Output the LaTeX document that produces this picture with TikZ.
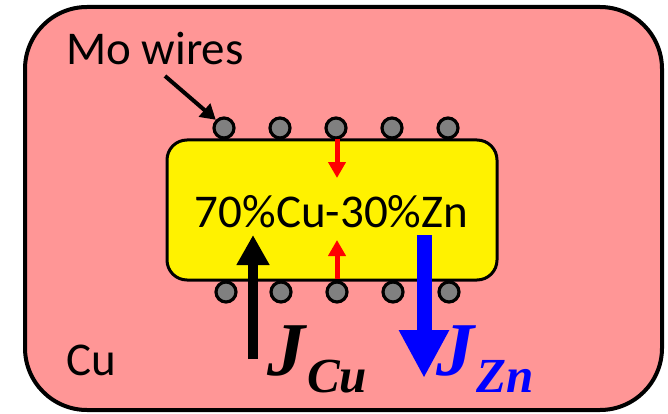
\documentclass[tikz,border=0pt]{standalone}
\usepackage{fontspec}
\setmainfont{Carlito}
\newfontfamily\jfont{Liberation Serif}
\usetikzlibrary{arrows.meta}
\definecolor{cupink}{RGB}{255,150,150}
\definecolor{bluez}{RGB}{0,0,255}
\definecolor{wiregray}{RGB}{128,128,128}
\tikzset{
  wire/.style={circle,draw=black,fill=wiregray,line width=3.2pt,minimum size=20pt,inner sep=0pt},
  lbl/.style={inner sep=0pt,font=\fontsize{47}{56}\selectfont},
  jbig/.style={inner sep=0pt,font=\fontsize{76}{84}\selectfont\jfont\bfseries\itshape},
  jsub/.style={inner sep=0pt,font=\fontsize{49}{57}\selectfont\jfont\bfseries\itshape},
  redarrow/.style={draw=red,line width=5pt,-{Triangle[length=16pt,width=17pt]}},
}
\begin{document}
\begin{tikzpicture}[x=1pt,y=-1pt]
\useasboundingbox (0,0) rectangle (668,414);
% outer Cu block
\draw[line width=4pt,fill=cupink,rounded corners=62pt] (25,7) rectangle (662,410);
% wires
\foreach \i/\x in {1/224,2/280,3/336,4/392,5/448}{
  \node[wire] (t\i) at (\x,128) {};
}
\foreach \i/\x in {1/226,2/281,3/337,4/393,5/449}{
  \node[wire] (b\i) at (\x,292) {};
}
% inner alloy block
\draw[line width=3pt,fill=yellow,rounded corners=20pt] (167,140) rectangle (497,280);
% texts
\node[lbl,anchor=base west] (mo) at (66,65) {Mo wires};
\node[lbl,anchor=base west] (cu) at (66,375) {Cu};
\node[lbl,anchor=base] (alloy) at (331.5,227) {70\%Cu-30\%Zn};
% Mo wires pointer
\coordinate (mostart) at (165,76);
\draw[line width=4pt,-{Triangle[length=15pt,width=17pt]}] (mostart) -- (t1.north west);
% red small arrows
\coordinate (rt1) at (337,139);
\coordinate (rt2) at (337,178);
\coordinate (rb1) at (337,279);
\coordinate (rb2) at (337,240);
\draw[redarrow] (rt1) -- (rt2);
\draw[redarrow] (rb1) -- (rb2);
% flux arrows
\coordinate (cu1) at (253,359);
\coordinate (cu2) at (253,235);
\draw[line width=10pt,-{Triangle[length=30pt,width=31pt]}] (cu1) -- (cu2);
\coordinate (zn1) at (424,235);
\coordinate (zn2) at (424,378);
\draw[bluez,line width=15pt,-{Triangle[length=48pt,width=47pt]}] (zn1) -- (zn2);
% flux labels
\node[jbig,anchor=base west] (jcu) at (267,375) {J};
\node[jsub,anchor=base west] (jcus) at (307,392) {Cu};
\node[jbig,anchor=base west,text=bluez] (jzn) at (436,375) {J};
\node[jsub,anchor=base west,text=bluez] (jzns) at (476,392) {Zn};
\end{tikzpicture}
\end{document}
